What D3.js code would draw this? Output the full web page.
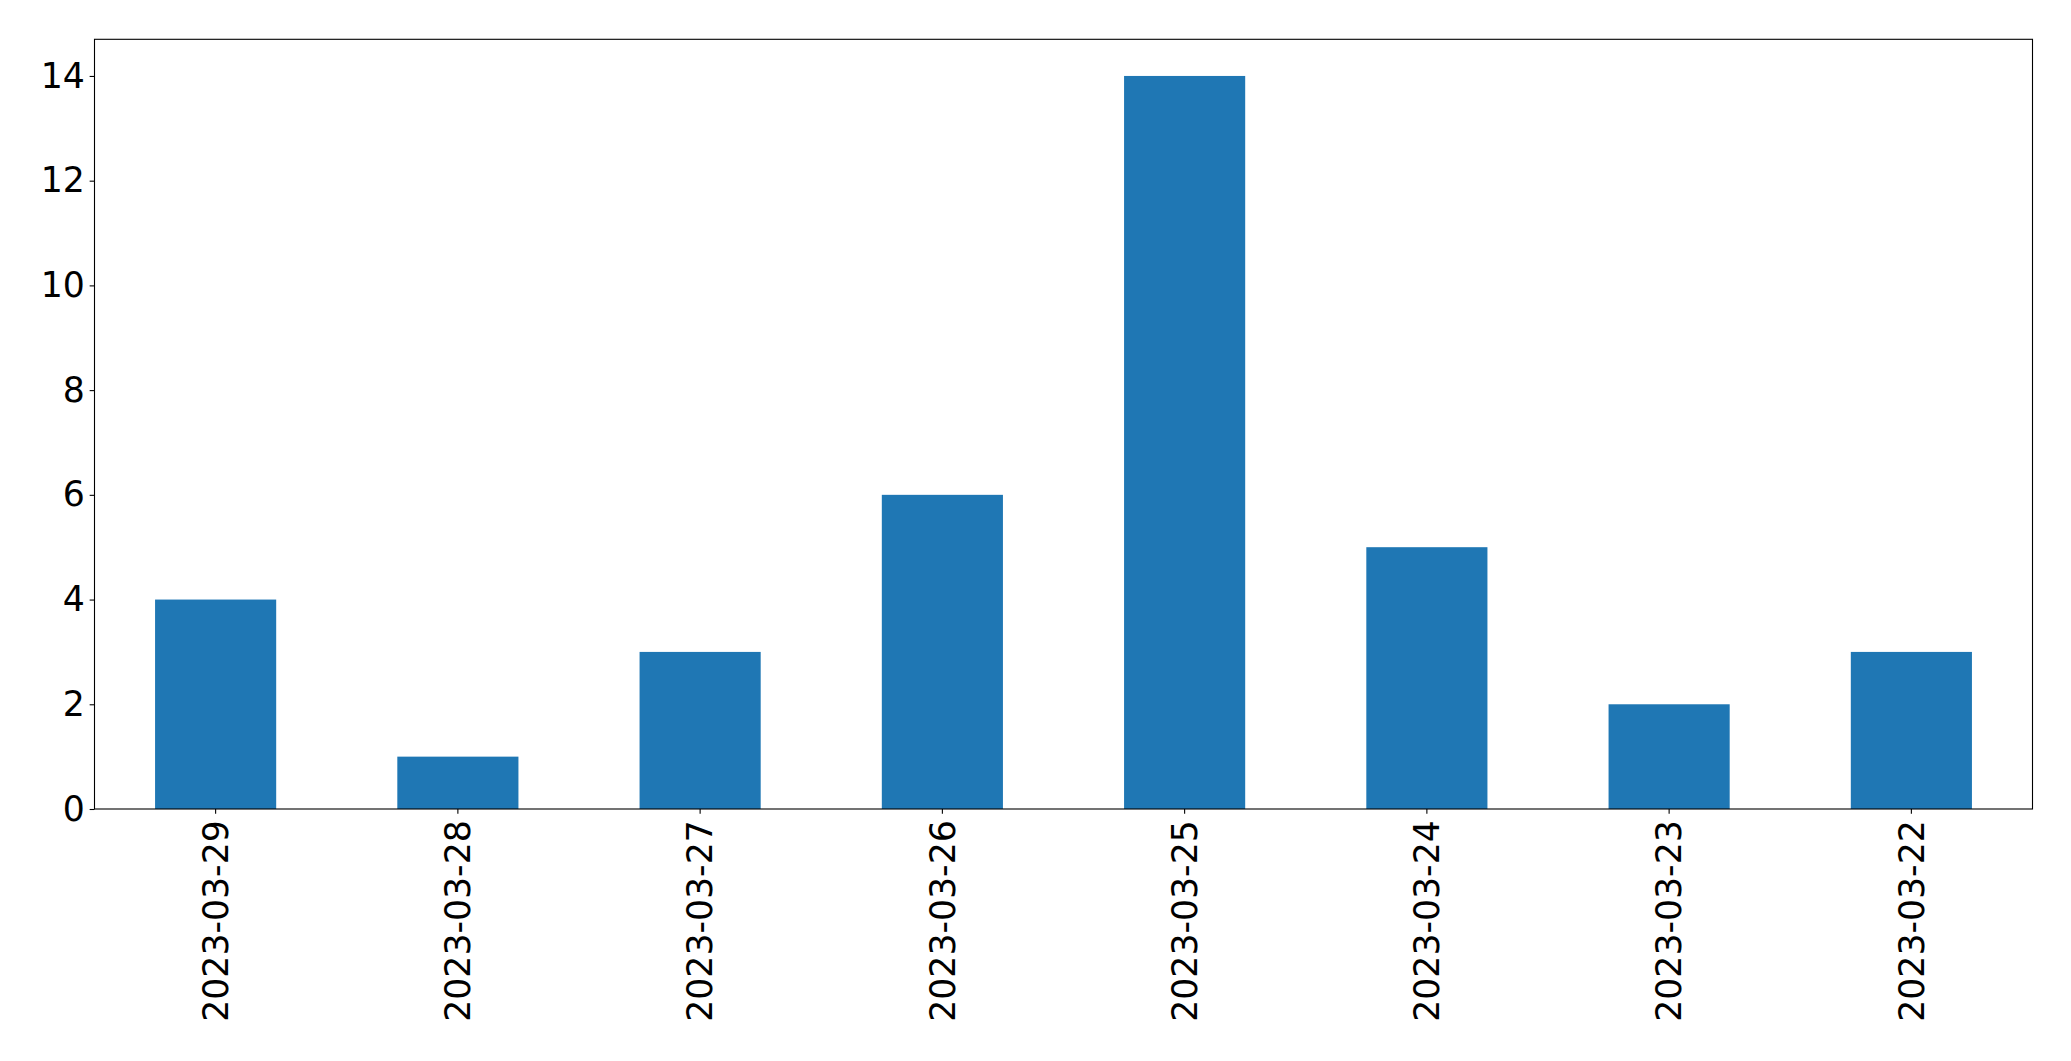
<!DOCTYPE html>
<html>
<head>
<meta charset="utf-8">
<script src="https://cdn.jsdelivr.net/npm/d3@7"></script>
<style>
  html, body { margin: 0; padding: 0; background: #fff; }
  svg { display: block; }
  text { font-family: "DejaVu Sans", sans-serif; fill: #000; }
</style>
</head>
<body>
<script>
const categories = ["2023-03-29", "2023-03-28", "2023-03-27", "2023-03-26", "2023-03-25", "2023-03-24", "2023-03-23", "2023-03-22"];
const values = [4, 1, 3, 6, 14, 5, 2, 3];
const yTicks = [0, 2, 4, 6, 8, 10, 12, 14];

const W = 2071, H = 1061;
const margin = { left: 94.5, right: W - 2032.5, top: 39.3, bottom: H - 809 };
const fontSize = 34.7;
const tickLen = 4.86, tickPad = 4.86;

const svg = d3.select("body").append("svg").attr("width", W).attr("height", H);

const x = d3.scaleBand().domain(categories).range([margin.left, W - margin.right]).paddingInner(0.5).paddingOuter(0.25);
const y = d3.scaleLinear().domain([0, 14.7]).range([H - margin.bottom, margin.top]);

svg.append("g").selectAll("rect").data(values).join("rect")
  .attr("x", (d, i) => x(categories[i]))
  .attr("y", d => y(d))
  .attr("width", x.bandwidth())
  .attr("height", d => y(0) - y(d))
  .attr("fill", "#1f77b4");

// frame
svg.append("rect")
  .attr("x", margin.left).attr("y", margin.top)
  .attr("width", W - margin.left - margin.right)
  .attr("height", H - margin.top - margin.bottom)
  .attr("fill", "none").attr("stroke", "#000").attr("stroke-width", 1.1);

// y axis
const yAxis = d3.axisLeft(y).tickValues(yTicks).tickSize(tickLen).tickPadding(tickPad).tickFormat(d3.format("d"));
const gy = svg.append("g").attr("transform", `translate(${margin.left},0)`).call(yAxis);
gy.select(".domain").remove();
gy.selectAll("line").attr("stroke", "#000").attr("stroke-width", 1.1);
gy.selectAll("text").attr("font-size", fontSize).attr("font-family", "DejaVu Sans, sans-serif").attr("fill", "#000");

// x axis
const xAxis = d3.axisBottom(x).tickSize(tickLen).tickPadding(tickPad);
const gx = svg.append("g").attr("transform", `translate(0,${H - margin.bottom})`).call(xAxis);
gx.select(".domain").remove();
gx.selectAll("line").attr("stroke", "#000").attr("stroke-width", 1.1);
gx.selectAll("text")
  .attr("font-size", fontSize).attr("font-family", "DejaVu Sans, sans-serif").attr("fill", "#000")
  .attr("text-anchor", "end")
  .attr("dy", "0.35em")
  .attr("transform", `translate(0,${tickLen + tickPad + 1.5}) rotate(-90)`)
  .attr("x", 0).attr("y", 0);
</script>
</body>
</html>
